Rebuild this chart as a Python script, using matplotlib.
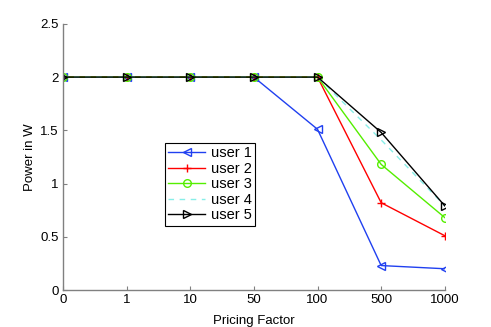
import matplotlib
matplotlib.use("Agg")
import matplotlib.pyplot as plt

x_labels = ["0", "1", "10", "50", "100", "500", "1000"]
user1 = [2, 2, 2, 2, 1.51, 0.23, 0.20]
user2 = [2, 2, 2, 2, 2, 0.82, 0.51]
user3 = [2, 2, 2, 2, 2, 1.18, 0.68]
user4 = [2, 2, 2, 2, 2, 1.41, 0.79]
user5 = [2, 2, 2, 2, 2, 1.48, 0.79]

plt.rcParams['font.family'] = ['Liberation Sans', 'DejaVu Sans']
fig = plt.figure(figsize=(4.91, 3.27), dpi=100)
ax = fig.add_axes([0.128, 0.113, 0.778, 0.814])
xs = list(range(len(x_labels)))

ax.plot(xs, user1, color='#2040F0', marker='<', mfc='none', ms=6, lw=1.0, label='user 1')
ax.plot(xs, user2, color='#FF0000', marker='+', ms=6, lw=1.0, label='user 2')
ax.plot(xs, user3, color='#55EE00', marker='o', mfc='none', ms=5.5, lw=1.0, label='user 3')
ax.plot(xs, user4, color='#88EEE8', ls=(0, (4, 4)), lw=1.0, label='user 4')
ax.plot(xs, user5, color='black', marker='>', mfc='none', ms=6, lw=1.0, label='user 5')

ax.set_xlim(0, 6)
ax.set_ylim(0, 2.5)
ax.set_xticks(xs)
ax.set_xticklabels(x_labels)
ax.set_yticks([0, 0.5, 1, 1.5, 2, 2.5])
ax.set_yticklabels(["0", "0.5", "1", "1.5", "2", "2.5"])
for s in ['top', 'right']:
    ax.spines[s].set_visible(False)
for s in ['left', 'bottom']:
    ax.spines[s].set_color('#808080')
    ax.spines[s].set_linewidth(1.0)
ax.tick_params(direction='in', length=3, color='#808080', labelsize=9.5, pad=3)
ax.set_xlabel('Pricing Factor', fontsize=9.5, labelpad=6)
ax.set_ylabel('Power in W', fontsize=9.5, labelpad=3)

leg = ax.legend(loc='upper left', bbox_to_anchor=(0.267, 0.553), borderaxespad=0,
                fontsize=10.5, frameon=True, fancybox=False, edgecolor='black', framealpha=1,
                handlelength=2.5, borderpad=0.25, labelspacing=0.1, handletextpad=0.4)
leg.get_frame().set_linewidth(0.8)

fig.savefig('out.png', dpi=100)
